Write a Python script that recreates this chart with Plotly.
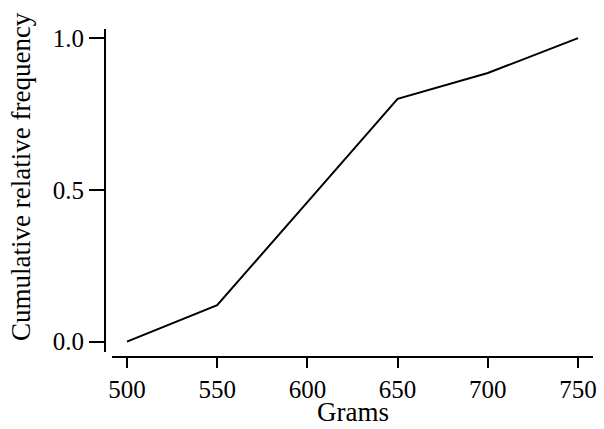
import plotly.graph_objects as go

grams = [500, 550, 600, 650, 700, 750]
cum_rel_freq = [0.0, 0.12, 0.46, 0.80, 0.885, 1.0]
x_ticks = [500, 550, 600, 650, 700, 750]
y_ticks = [0.0, 0.5, 1.0]
y_tick_labels = ["0.0", "0.5", "1.0"]

W, H = 604, 429
FONT = "Liberation Serif, Times New Roman, serif"

fig = go.Figure()
fig.add_trace(go.Scatter(x=grams, y=cum_rel_freq, mode="lines",
                         line=dict(color="black", width=2), showlegend=False))

fig.update_layout(
    width=W, height=H,
    margin=dict(l=0, r=0, t=0, b=0, autoexpand=False),
    paper_bgcolor="white", plot_bgcolor="white",
    font=dict(family=FONT, size=25, color="black"),
    xaxis=dict(domain=[112 / W, 593 / W], range=[491.7, 758.3],
               anchor="free", position=1 - 357 / H, automargin=False,
               tickvals=x_ticks, ticks="outside", ticklen=10, tickwidth=2,
               tickcolor="black", showline=True, linecolor="black", linewidth=2,
               showgrid=False, zeroline=False, tickfont=dict(size=25)),
    yaxis=dict(domain=[1 - 352 / H, 1 - 29 / H], range=[-0.034, 1.03],
               anchor="free", position=105 / W, automargin=False,
               tickvals=y_ticks, ticktext=y_tick_labels, ticks="outside",
               ticklen=15, tickwidth=2, tickcolor="black", showline=True,
               linecolor="black", linewidth=2, showgrid=False, zeroline=False,
               tickfont=dict(size=25)),
    annotations=[
        dict(text="Grams", x=353 / W, y=1 - 412 / H, xref="paper", yref="paper",
             showarrow=False, font=dict(size=27), xanchor="center", yanchor="middle"),
        dict(text="Cumulative relative frequency", x=21 / W, y=1 - 177 / H,
             xref="paper", yref="paper", showarrow=False, textangle=-90,
             font=dict(size=27), xanchor="center", yanchor="middle"),
    ],
)

fig.write_html("out.html", config={"displayModeBar": False},
               post_script="document.body.style.margin='0';document.body.style.padding='0';")
